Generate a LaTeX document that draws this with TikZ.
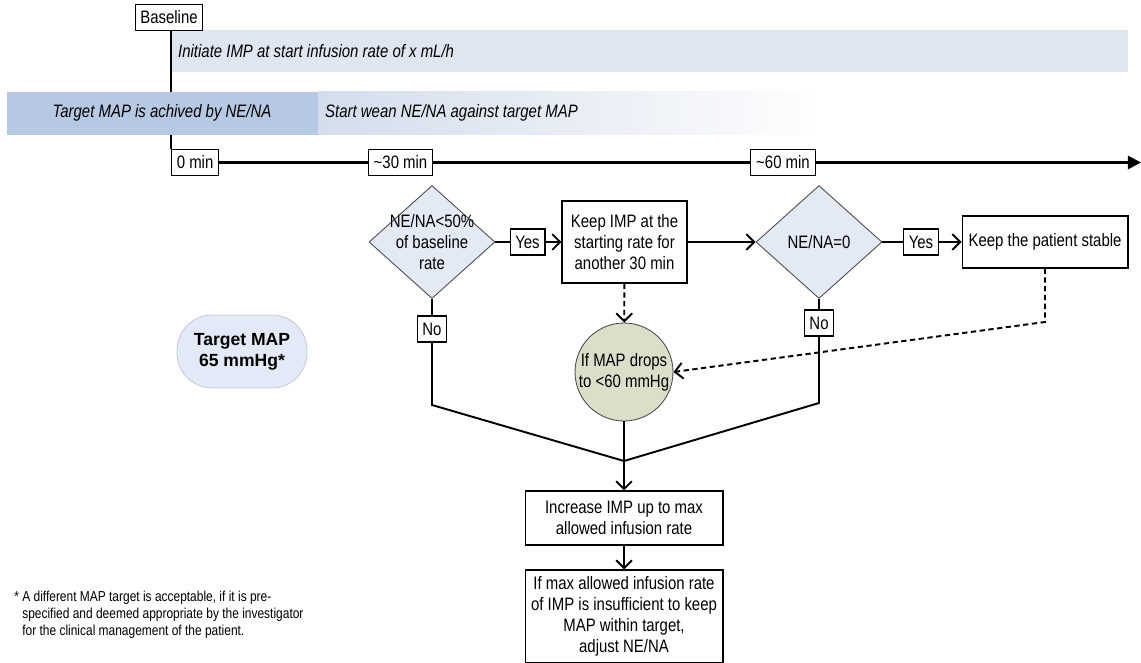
\documentclass[tikz,border=0pt]{standalone}
\usepackage{fontspec}
\setmainfont{Liberation Sans}[FakeStretch=0.83]
\newfontfamily\widefont{Liberation Sans}
\usetikzlibrary{arrows.meta,shapes.geometric,positioning}
\definecolor{bandlight}{HTML}{DFE6F1}
\definecolor{banddark}{HTML}{B7C8E2}
\definecolor{bandmid}{HTML}{D3DDEC}
\definecolor{decfill}{HTML}{E3E9F5}
\definecolor{dropfill}{HTML}{DADFC9}
\definecolor{targetfill}{HTML}{E3E9F6}
\newcommand{\flowfont}{\fontsize{10.25}{12}\selectfont}
\newcommand{\notefont}{\fontsize{8.2}{9.7}\selectfont}

\begin{document}
\begin{tikzpicture}[x=0.02cm,y=-0.02cm]
            \tikzstyle{every node}=[font=\flowfont]
            \tikzstyle{tag}=[draw, fill=white, line width=0.6pt, inner xsep=3pt, inner ysep=0pt, minimum height=0.52cm]
            \tikzstyle{stepbox}=[draw, fill=white, line width=0.6pt, align=center, inner sep=2pt]
            \tikzstyle{decision}=[diamond, draw=black!70, fill=decfill, line width=0.5pt, inner sep=-6pt, minimum width=2.52cm, minimum height=2.26cm, align=center]
            \tikzstyle{wire}=[line width=1.1pt]
            \tikzstyle{go}=[wire, -{Straight Barb[length=4.5pt,width=9pt]}]
            \tikzstyle{maybe}=[wire, dash pattern=on 3pt off 2pt, -{Straight Barb[length=4.5pt,width=9pt]}]
            \tikzstyle{band}=[font=\flowfont\itshape, anchor=west]

            \useasboundingbox (0,0) rectangle (1141,662);

            % infusion band
            \fill[bandlight] (171,30) rectangle (1128,72);
            \node[band] (imp) at (172,51) {Initiate IMP at start infusion rate of x mL/h};

            % start of time line
            \node[tag] (base) at (169,17.5) {Baseline};
            \node[tag, anchor=west] (t0) at (171,162.5) {0 min};
            \draw[line width=0.6pt] (base.south -| t0.north west) -- (t0.north west);

            % weaning band
            \fill[banddark] (7,92) rectangle (318,135);
            \shade[left color=bandmid, right color=white!96!bandmid] (318,92) rectangle (817,135);
            \node[band, anchor=center] (achieved) at (162,113) {Target MAP is achived by NE/NA};
            \node[band] (wean) at (319,113) {Start wean NE/NA against target MAP};

            % time line
            \coordinate (tend) at (1141,162.5);
            \draw[line width=1.5pt, -{Triangle[length=7.5pt,width=7.5pt]}] (t0) -- (tend);
            \node[tag] (t30) at (400.5,162.5) {\textasciitilde30 min};
            \node[tag] (t60) at (783,162.5) {\textasciitilde60 min};

            % decisions and steps
            \node[decision] (dec1) at (432,242) {NE/NA<50\%\\of baseline\\rate};
            \node[tag] (yes1) at (527.5,242) {Yes};
            \node[stepbox, minimum width=2.5cm, minimum height=1.64cm] (keep) at (624.5,242) {Keep IMP at the\\starting rate for\\another 30 min};
            \node[decision] (dec2) at (819,242) {NE/NA=0};
            \node[tag] (yes2) at (921,242) {Yes};
            \node[stepbox, minimum width=3.32cm, minimum height=1.04cm] (stable) at (1045,242) {Keep the patient stable};
            \node[tag] (no1) at (432,329) {No};
            \node[tag] (no2) at (819,323) {No};
            \node[circle, draw=black!70, fill=dropfill, line width=0.5pt, minimum size=1.96cm, inner sep=0pt, align=center] (drop) at (624,372) {If MAP drops\\to <60 mmHg};
            \node[stepbox, minimum width=3.96cm, minimum height=1.08cm] (incr) at (624,518) {Increase IMP up to max\\allowed infusion rate};
            \node[stepbox, minimum width=3.96cm, minimum height=1.86cm] (adjust) at (624,616.5) {If max allowed infusion rate\\of IMP is insufficient to keep\\MAP within target,\\adjust NE/NA};

            % target and note
            \node[draw=targetfill!85!black, fill=targetfill, line width=0.4pt, rounded corners=0.7cm, minimum width=2.6cm, minimum height=1.46cm, align=center, font=\widefont\bfseries\fontsize{10}{12}\selectfont] (target) at (242,351.5) {Target MAP\\65 mmHg*};
            \node[anchor=north west, align=left, font=\notefont, inner sep=0pt] (note) at (14,591) {* A different MAP target is acceptable, if it is pre-\\\hphantom{* }specified and deemed appropriate by the investigator\\\hphantom{* }for the clinical management of the patient.};

            % bends
            \coordinate (c1) at (432,405);
            \coordinate (c2) at (819,403);
            \coordinate (merge) at (624,461);
            \coordinate (dc) at (stable.south |- 0,322);

            % connecting wires
            \draw[wire] (dec1) -- (yes1);
            \draw[go] (yes1) -- (keep);
            \draw[go] (keep) -- (dec2);
            \draw[wire] (dec2) -- (yes2);
            \draw[go] (yes2) -- (stable);
            \draw[wire] (dec1) -- (no1);
            \draw[wire] (dec2) -- (no2);
            \draw[wire] (no1) -- (c1) -- (merge);
            \draw[wire] (no2) -- (c2) -- (merge);
            \draw[wire] (drop) -- (merge);
            \draw[go] (merge) -- (incr);
            \draw[go] (incr) -- (adjust);

            % dashed wires
            \draw[maybe] (keep) -- (drop);
            \draw[maybe] (stable) -- (dc) -- (drop.east);
        \end{tikzpicture}
\end{document}
